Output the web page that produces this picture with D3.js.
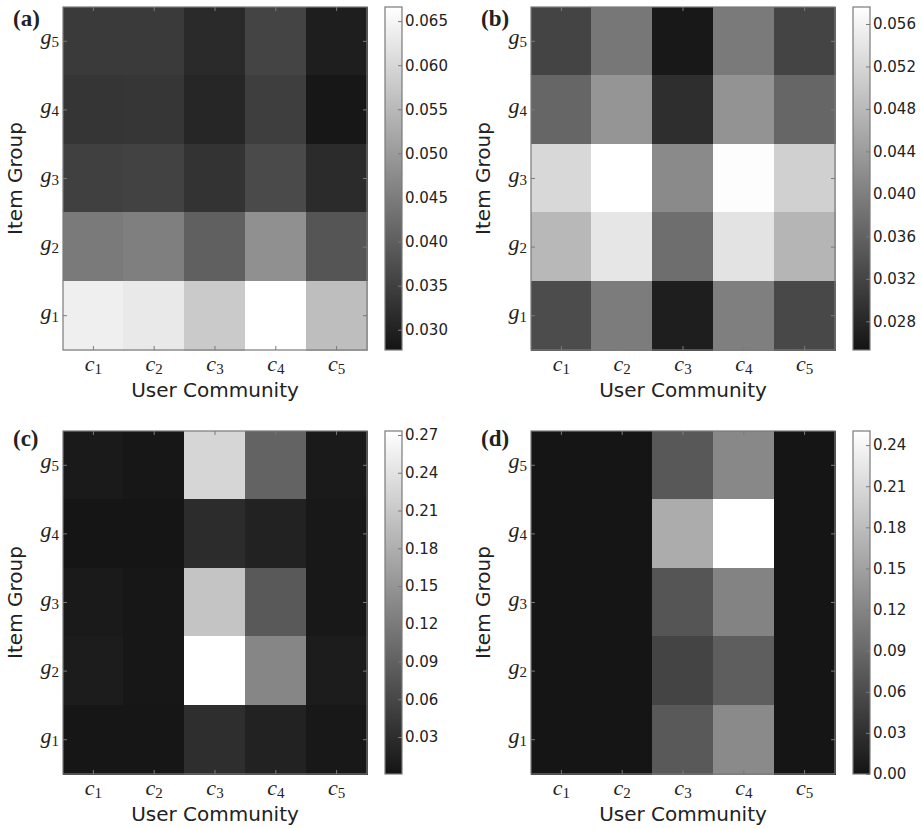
<!DOCTYPE html>
<html>
<head>
<meta charset="utf-8">
<script src="https://cdn.jsdelivr.net/npm/d3@7"></script>
<style>
  body { margin: 0; background: #fff; }
  svg { display: block; }
</style>
</head>
<body>
<svg id="fig" width="921" height="829"></svg>
<script>
// categories
let communities = ["1", "2", "3", "4", "5"];   // c_1 .. c_5
let groups = ["5", "4", "3", "2", "1"];        // g_5 on top, g_1 at the bottom

// values per panel, rows listed top to bottom (g5 .. g1), columns c1 .. c5
let valuesA = [
    [0.0340, 0.0340, 0.0313, 0.0356, 0.0294],
    [0.0332, 0.0333, 0.0307, 0.0347, 0.0282],
    [0.0350, 0.0353, 0.0328, 0.0366, 0.0315],
    [0.0446, 0.0454, 0.0403, 0.0482, 0.0385],
    [0.0640, 0.0630, 0.0578, 0.0666, 0.0558]
];
let valuesB = [
    [0.0319, 0.0389, 0.0258, 0.0393, 0.0319],
    [0.0366, 0.0430, 0.0289, 0.0428, 0.0366],
    [0.0522, 0.0576, 0.0415, 0.0573, 0.0511],
    [0.0478, 0.0542, 0.0377, 0.0537, 0.0474],
    [0.0330, 0.0396, 0.0267, 0.0400, 0.0324]
];
let valuesC = [
    [0.0076, 0.0041, 0.2256, 0.0922, 0.0076],
    [0.0018, 0.0018, 0.0284, 0.0168, 0.0052],
    [0.0076, 0.0041, 0.2048, 0.0806, 0.0052],
    [0.0099, 0.0041, 0.2732, 0.1328, 0.0099],
    [0.0029, 0.0029, 0.0308, 0.0168, 0.0052]
];
let valuesD = [
    [0.0010, 0.0010, 0.0724, 0.1236, 0.0010],
    [0.0010, 0.0010, 0.1619, 0.2503, 0.0010],
    [0.0010, 0.0010, 0.0692, 0.1182, 0.0010],
    [0.0010, 0.0010, 0.0511, 0.0788, 0.0010],
    [0.0010, 0.0010, 0.0735, 0.1257, 0.0010]
];

// colour bar ranges and tick labels
let rangeA = [0.0277, 0.0666];
let rangeB = [0.0253, 0.0576];
let rangeC = [0.0006, 0.2732];
let rangeD = [0.0, 0.2503];
let ticksA = ["0.030", "0.035", "0.040", "0.045", "0.050", "0.055", "0.060", "0.065"];
let ticksB = ["0.028", "0.032", "0.036", "0.040", "0.044", "0.048", "0.052", "0.056"];
let ticksC = ["0.03", "0.06", "0.09", "0.12", "0.15", "0.18", "0.21", "0.24", "0.27"];
let ticksD = ["0.00", "0.03", "0.06", "0.09", "0.12", "0.15", "0.18", "0.21", "0.24"];

let PLOT_W = 304;
let PLOT_H = 343;
let CB_GAP = 18;
let CB_W = 17;
let DARK = "#141414";
let EDGE = "#7a7a7a";
let SERIF = "'Liberation Serif', 'DejaVu Serif', serif";

let panels = [
    {name: "a", values: valuesA, range: rangeA, ticks: ticksA, x: 63, y: 7, labelY: 26},
    {name: "b", values: valuesB, range: rangeB, ticks: ticksB, x: 531, y: 7, labelY: 26},
    {name: "c", values: valuesC, range: rangeC, ticks: ticksC, x: 63, y: 431, labelY: 446},
    {name: "d", values: valuesD, range: rangeD, ticks: ticksD, x: 531, y: 431, labelY: 446}
];

let svg = d3.select("#fig");
let defs = svg.append("defs");

panels.forEach(function(p) {
    let g = svg.append("g").attr("transform", `translate(${p.x},${p.y})`);

    let xScale = d3.scaleBand().domain(communities).range([0, PLOT_W]);
    let yScale = d3.scaleBand().domain(groups).range([0, PLOT_H]);
    let color = d3.scaleLinear().domain(p.range).range([DARK, "#ffffff"]).clamp(true);

    // flatten the matrix into cells
    let cells = [];
    p.values.forEach((row, i) => row.forEach((v, j) => {
        cells.push({g: groups[i], c: communities[j], v: v});
    }));

    g.selectAll("rect.cell")
        .data(cells)
        .join("rect")
        .attr("class", "cell")
        .attr("x", d => Math.floor(xScale(d.c)))
        .attr("y", d => Math.floor(yScale(d.g)))
        .attr("width", xScale.bandwidth() + 1)
        .attr("height", yScale.bandwidth() + 1)
        .attr("shape-rendering", "crispEdges")
        .attr("fill", d => color(d.v));

    // inward tick marks on all four sides
    let tk = g.append("g").attr("stroke", EDGE).attr("stroke-width", 1);
    communities.forEach(c => {
        let cx = xScale(c) + xScale.bandwidth() / 2;
        tk.append("line").attr("x1", cx).attr("x2", cx).attr("y1", PLOT_H).attr("y2", PLOT_H - 4);
        tk.append("line").attr("x1", cx).attr("x2", cx).attr("y1", 0).attr("y2", 4);
    });
    groups.forEach(r => {
        let cy = yScale(r) + yScale.bandwidth() / 2;
        tk.append("line").attr("x1", 0).attr("x2", 4).attr("y1", cy).attr("y2", cy);
        tk.append("line").attr("x1", PLOT_W).attr("x2", PLOT_W - 4).attr("y1", cy).attr("y2", cy);
    });

    g.append("rect")
        .attr("width", PLOT_W).attr("height", PLOT_H)
        .attr("fill", "none").attr("stroke", EDGE).attr("stroke-width", 1.2);

    // x tick labels c_i
    let xl = g.selectAll("text.xl")
        .data(communities)
        .join("text")
        .attr("class", "xl")
        .attr("x", d => xScale(d) + xScale.bandwidth() / 2)
        .attr("y", PLOT_H + 21)
        .attr("text-anchor", "middle")
        .style("font-family", SERIF)
        .style("font-size", "22px")
        .attr("fill", "#222");
    xl.append("tspan").style("font-style", "italic").text("c");
    xl.append("tspan").attr("dy", 3).style("font-size", "15px").text(d => d);

    // y tick labels g_i
    let yl = g.selectAll("text.yl")
        .data(groups)
        .join("text")
        .attr("class", "yl")
        .attr("x", -4)
        .attr("y", d => yScale(d) + yScale.bandwidth() / 2 + 3)
        .attr("text-anchor", "end")
        .style("font-family", SERIF)
        .style("font-size", "22px")
        .attr("fill", "#222");
    yl.append("tspan").style("font-style", "italic").text("g");
    yl.append("tspan").attr("dy", 3).style("font-size", "15px").text(d => d);

    // axis titles
    g.append("text")
        .attr("x", PLOT_W / 2)
        .attr("y", PLOT_H + 47)
        .attr("text-anchor", "middle")
        .style("font-family", "'DejaVu Sans', sans-serif")
        .style("font-size", "20px")
        .attr("fill", "#222")
        .text("User Community");

    g.append("text")
        .attr("transform", `translate(-41,${PLOT_H / 2}) rotate(-90)`)
        .attr("text-anchor", "middle")
        .style("font-family", "'DejaVu Sans', sans-serif")
        .style("font-size", "20px")
        .attr("fill", "#222")
        .text("Item Group");

    // panel label
    svg.append("text")
        .attr("x", p.x - 50)
        .attr("y", p.labelY)
        .style("font-family", "'Liberation Serif', 'Times New Roman', serif")
        .style("font-weight", "bold")
        .style("font-size", "23px")
        .attr("fill", "#222")
        .text("(" + p.name + ")");

    // colour bar
    let grad = defs.append("linearGradient")
        .attr("id", "grad_" + p.name)
        .attr("x1", 0).attr("y1", 1).attr("x2", 0).attr("y2", 0);
    grad.append("stop").attr("offset", 0).attr("stop-color", DARK);
    grad.append("stop").attr("offset", 1).attr("stop-color", "#ffffff");

    let cb = g.append("g").attr("transform", `translate(${PLOT_W + CB_GAP},0)`);
    let cbScale = d3.scaleLinear().domain(p.range).range([PLOT_H, 0]);

    cb.append("rect")
        .attr("width", CB_W).attr("height", PLOT_H)
        .attr("fill", `url(#grad_${p.name})`);

    cb.append("g")
        .attr("transform", `translate(${CB_W},0)`)
        .call(d3.axisRight(cbScale)
            .tickValues(p.ticks.map(Number))
            .tickFormat((d, i) => p.ticks[i])
            .tickSizeInner(-4)
            .tickSizeOuter(0)
            .tickPadding(3))
        .call(a => a.select(".domain").remove())
        .call(a => a.selectAll("line").attr("stroke", EDGE))
        .call(a => a.selectAll("text")
            .style("font-family", "'DejaVu Sans', sans-serif")
            .style("font-size", "15px")
            .attr("fill", "#222"));

    cb.append("rect")
        .attr("width", CB_W).attr("height", PLOT_H)
        .attr("fill", "none").attr("stroke", EDGE).attr("stroke-width", 1.2);
});
</script>
</body>
</html>
